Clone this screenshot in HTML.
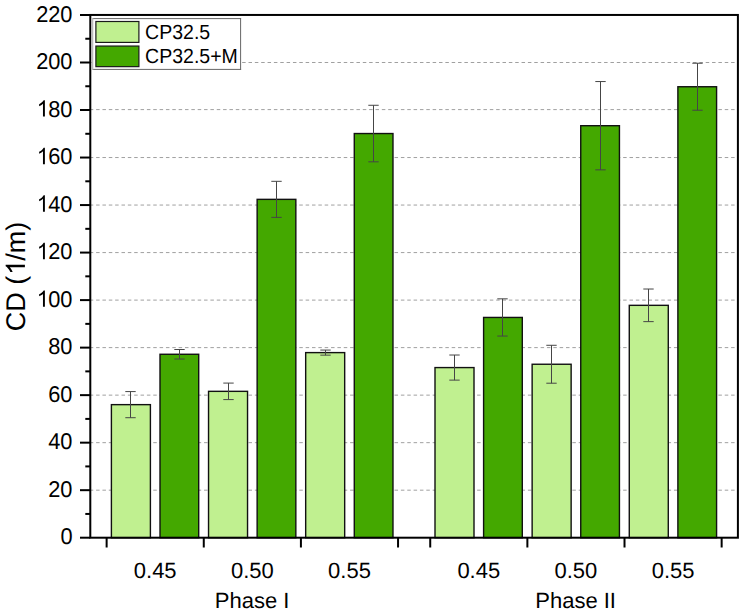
<!DOCTYPE html>
<html><head><meta charset="utf-8"><style>
html,body{margin:0;padding:0;background:#fff;}
body{width:742px;height:613px;overflow:hidden;}
svg{display:block;}
text{font-family:"Liberation Sans",sans-serif;fill:#000;text-rendering:geometricPrecision;}
.tl{font-size:21.8px;}
.tx{font-size:22px;}
.yt{font-size:27px;}
.lg{font-size:19.5px;}
</style></head><body>
<svg width="742" height="613" viewBox="0 0 742 613">
<line x1="89.75" y1="490.18" x2="737" y2="490.18" stroke="#a0a0a0" stroke-width="1" stroke-dasharray="3.5 2.85" />
<line x1="89.75" y1="442.66" x2="737" y2="442.66" stroke="#a0a0a0" stroke-width="1" stroke-dasharray="3.5 2.85" />
<line x1="89.75" y1="395.14" x2="737" y2="395.14" stroke="#a0a0a0" stroke-width="1" stroke-dasharray="3.5 2.85" />
<line x1="89.75" y1="347.62" x2="737" y2="347.62" stroke="#a0a0a0" stroke-width="1" stroke-dasharray="3.5 2.85" />
<line x1="89.75" y1="300.10" x2="737" y2="300.10" stroke="#a0a0a0" stroke-width="1" stroke-dasharray="3.5 2.85" />
<line x1="89.75" y1="252.58" x2="737" y2="252.58" stroke="#a0a0a0" stroke-width="1" stroke-dasharray="3.5 2.85" />
<line x1="89.75" y1="205.06" x2="737" y2="205.06" stroke="#a0a0a0" stroke-width="1" stroke-dasharray="3.5 2.85" />
<line x1="89.75" y1="157.54" x2="737" y2="157.54" stroke="#a0a0a0" stroke-width="1" stroke-dasharray="3.5 2.85" />
<line x1="89.75" y1="109.60" x2="737" y2="109.60" stroke="#a0a0a0" stroke-width="1" stroke-dasharray="3.5 2.85" />
<line x1="89.75" y1="62.50" x2="737" y2="62.50" stroke="#a0a0a0" stroke-width="1" stroke-dasharray="3.5 2.85" />
<rect x="111.40" y="404.64" width="39.00" height="133.06" fill="#c0f090" stroke="#111" stroke-width="1.4" />
<line x1="130.50" y1="391.58" x2="130.50" y2="417.71" stroke="#454545" stroke-width="1.0" />
<line x1="125.30" y1="391.58" x2="135.70" y2="391.58" stroke="#454545" stroke-width="1.0" />
<line x1="125.30" y1="417.71" x2="135.70" y2="417.71" stroke="#454545" stroke-width="1.0" />
<rect x="160.00" y="354.27" width="38.70" height="183.43" fill="#44a800" stroke="#111" stroke-width="1.4" />
<line x1="179.50" y1="349.52" x2="179.50" y2="359.02" stroke="#454545" stroke-width="1.0" />
<line x1="174.30" y1="349.52" x2="184.70" y2="349.52" stroke="#454545" stroke-width="1.0" />
<line x1="174.30" y1="359.02" x2="184.70" y2="359.02" stroke="#454545" stroke-width="1.0" />
<rect x="208.54" y="391.34" width="39.00" height="146.36" fill="#c0f090" stroke="#111" stroke-width="1.4" />
<line x1="228.50" y1="383.09" x2="228.50" y2="399.58" stroke="#454545" stroke-width="1.0" />
<line x1="223.30" y1="383.09" x2="233.70" y2="383.09" stroke="#454545" stroke-width="1.0" />
<line x1="223.30" y1="399.58" x2="233.70" y2="399.58" stroke="#454545" stroke-width="1.0" />
<rect x="257.14" y="199.36" width="38.70" height="338.34" fill="#44a800" stroke="#111" stroke-width="1.4" />
<line x1="276.50" y1="181.32" x2="276.50" y2="217.39" stroke="#454545" stroke-width="1.0" />
<line x1="271.30" y1="181.32" x2="281.70" y2="181.32" stroke="#454545" stroke-width="1.0" />
<line x1="271.30" y1="217.39" x2="281.70" y2="217.39" stroke="#454545" stroke-width="1.0" />
<rect x="305.68" y="352.61" width="39.00" height="185.09" fill="#c0f090" stroke="#111" stroke-width="1.4" />
<line x1="325.50" y1="350.07" x2="325.50" y2="355.15" stroke="#454545" stroke-width="1.0" />
<line x1="320.30" y1="350.07" x2="330.70" y2="350.07" stroke="#454545" stroke-width="1.0" />
<line x1="320.30" y1="355.15" x2="330.70" y2="355.15" stroke="#454545" stroke-width="1.0" />
<rect x="354.28" y="133.54" width="38.70" height="404.16" fill="#44a800" stroke="#111" stroke-width="1.4" />
<line x1="373.50" y1="105.27" x2="373.50" y2="161.82" stroke="#454545" stroke-width="1.0" />
<line x1="368.30" y1="105.27" x2="378.70" y2="105.27" stroke="#454545" stroke-width="1.0" />
<line x1="368.30" y1="161.82" x2="378.70" y2="161.82" stroke="#454545" stroke-width="1.0" />
<rect x="435.00" y="367.58" width="39.00" height="170.12" fill="#c0f090" stroke="#111" stroke-width="1.4" />
<line x1="454.50" y1="355.03" x2="454.50" y2="380.12" stroke="#454545" stroke-width="1.0" />
<line x1="449.30" y1="355.03" x2="459.70" y2="355.03" stroke="#454545" stroke-width="1.0" />
<line x1="449.30" y1="380.12" x2="459.70" y2="380.12" stroke="#454545" stroke-width="1.0" />
<rect x="483.60" y="317.44" width="38.70" height="220.26" fill="#44a800" stroke="#111" stroke-width="1.4" />
<line x1="502.50" y1="298.84" x2="502.50" y2="336.05" stroke="#454545" stroke-width="1.0" />
<line x1="497.30" y1="298.84" x2="507.70" y2="298.84" stroke="#454545" stroke-width="1.0" />
<line x1="497.30" y1="336.05" x2="507.70" y2="336.05" stroke="#454545" stroke-width="1.0" />
<rect x="532.14" y="364.25" width="39.00" height="173.45" fill="#c0f090" stroke="#111" stroke-width="1.4" />
<line x1="551.50" y1="345.29" x2="551.50" y2="383.21" stroke="#454545" stroke-width="1.0" />
<line x1="546.30" y1="345.29" x2="556.70" y2="345.29" stroke="#454545" stroke-width="1.0" />
<line x1="546.30" y1="383.21" x2="556.70" y2="383.21" stroke="#454545" stroke-width="1.0" />
<rect x="580.74" y="125.70" width="38.70" height="412.00" fill="#44a800" stroke="#111" stroke-width="1.4" />
<line x1="600.50" y1="81.56" x2="600.50" y2="169.85" stroke="#454545" stroke-width="1.0" />
<line x1="595.30" y1="81.56" x2="605.70" y2="81.56" stroke="#454545" stroke-width="1.0" />
<line x1="595.30" y1="169.85" x2="605.70" y2="169.85" stroke="#454545" stroke-width="1.0" />
<rect x="629.28" y="305.33" width="39.00" height="232.37" fill="#c0f090" stroke="#111" stroke-width="1.4" />
<line x1="648.50" y1="289.03" x2="648.50" y2="321.63" stroke="#454545" stroke-width="1.0" />
<line x1="643.30" y1="289.03" x2="653.70" y2="289.03" stroke="#454545" stroke-width="1.0" />
<line x1="643.30" y1="321.63" x2="653.70" y2="321.63" stroke="#454545" stroke-width="1.0" />
<rect x="677.88" y="86.74" width="38.70" height="450.96" fill="#44a800" stroke="#111" stroke-width="1.4" />
<line x1="697.50" y1="63.24" x2="697.50" y2="110.23" stroke="#454545" stroke-width="1.0" />
<line x1="692.30" y1="63.24" x2="702.70" y2="63.24" stroke="#454545" stroke-width="1.0" />
<line x1="692.30" y1="110.23" x2="702.70" y2="110.23" stroke="#454545" stroke-width="1.0" />
<rect x="90.3" y="14.95" width="647.60" height="522.75" fill="none" stroke="#000" stroke-width="2" />
<line x1="80" y1="537.70" x2="90.3" y2="537.70" stroke="#000" stroke-width="2" />
<g transform="translate(60.38,544.30) scale(1.0,1.05)"><text x="0.00" y="0" class="tl">0</text></g>
<line x1="80" y1="490.18" x2="90.3" y2="490.18" stroke="#000" stroke-width="2" />
<g transform="translate(48.25,496.78) scale(1.0,1.05)"><text x="0.00" y="0" class="tl">20</text></g>
<line x1="80" y1="442.66" x2="90.3" y2="442.66" stroke="#000" stroke-width="2" />
<g transform="translate(48.25,449.26) scale(1.0,1.05)"><text x="0.00" y="0" class="tl">40</text></g>
<line x1="80" y1="395.14" x2="90.3" y2="395.14" stroke="#000" stroke-width="2" />
<g transform="translate(48.25,401.74) scale(1.0,1.05)"><text x="0.00" y="0" class="tl">60</text></g>
<line x1="80" y1="347.62" x2="90.3" y2="347.62" stroke="#000" stroke-width="2" />
<g transform="translate(48.25,354.22) scale(1.0,1.05)"><text x="0.00" y="0" class="tl">80</text></g>
<line x1="80" y1="300.10" x2="90.3" y2="300.10" stroke="#000" stroke-width="2" />
<g transform="translate(36.13,306.70) scale(1.0,1.05)"><path transform="translate(0.00,0) scale(0.01064,-0.01064)" d="M823 0L643 0L643 1147Q578 1085 472 1023Q366 961 282 930L282 1104Q433 1175 546 1276Q659 1377 706 1460L823 1460Z" /><text x="12.12" y="0" class="tl">00</text></g>
<line x1="80" y1="252.58" x2="90.3" y2="252.58" stroke="#000" stroke-width="2" />
<g transform="translate(36.13,259.18) scale(1.0,1.05)"><path transform="translate(0.00,0) scale(0.01064,-0.01064)" d="M823 0L643 0L643 1147Q578 1085 472 1023Q366 961 282 930L282 1104Q433 1175 546 1276Q659 1377 706 1460L823 1460Z" /><text x="12.12" y="0" class="tl">20</text></g>
<line x1="80" y1="205.06" x2="90.3" y2="205.06" stroke="#000" stroke-width="2" />
<g transform="translate(36.13,211.66) scale(1.0,1.05)"><path transform="translate(0.00,0) scale(0.01064,-0.01064)" d="M823 0L643 0L643 1147Q578 1085 472 1023Q366 961 282 930L282 1104Q433 1175 546 1276Q659 1377 706 1460L823 1460Z" /><text x="12.12" y="0" class="tl">40</text></g>
<line x1="80" y1="157.54" x2="90.3" y2="157.54" stroke="#000" stroke-width="2" />
<g transform="translate(36.13,164.14) scale(1.0,1.05)"><path transform="translate(0.00,0) scale(0.01064,-0.01064)" d="M823 0L643 0L643 1147Q578 1085 472 1023Q366 961 282 930L282 1104Q433 1175 546 1276Q659 1377 706 1460L823 1460Z" /><text x="12.12" y="0" class="tl">60</text></g>
<line x1="80" y1="110.02" x2="90.3" y2="110.02" stroke="#000" stroke-width="2" />
<g transform="translate(36.13,116.62) scale(1.0,1.05)"><path transform="translate(0.00,0) scale(0.01064,-0.01064)" d="M823 0L643 0L643 1147Q578 1085 472 1023Q366 961 282 930L282 1104Q433 1175 546 1276Q659 1377 706 1460L823 1460Z" /><text x="12.12" y="0" class="tl">80</text></g>
<line x1="80" y1="62.50" x2="90.3" y2="62.50" stroke="#000" stroke-width="2" />
<g transform="translate(36.13,69.10) scale(1.0,1.05)"><text x="0.00" y="0" class="tl">200</text></g>
<line x1="80" y1="14.98" x2="90.3" y2="14.98" stroke="#000" stroke-width="2" />
<g transform="translate(36.13,21.58) scale(1.0,1.05)"><text x="0.00" y="0" class="tl">220</text></g>
<line x1="85.3" y1="513.94" x2="90.3" y2="513.94" stroke="#000" stroke-width="2" />
<line x1="85.3" y1="466.42" x2="90.3" y2="466.42" stroke="#000" stroke-width="2" />
<line x1="85.3" y1="418.90" x2="90.3" y2="418.90" stroke="#000" stroke-width="2" />
<line x1="85.3" y1="371.38" x2="90.3" y2="371.38" stroke="#000" stroke-width="2" />
<line x1="85.3" y1="323.86" x2="90.3" y2="323.86" stroke="#000" stroke-width="2" />
<line x1="85.3" y1="276.34" x2="90.3" y2="276.34" stroke="#000" stroke-width="2" />
<line x1="85.3" y1="228.82" x2="90.3" y2="228.82" stroke="#000" stroke-width="2" />
<line x1="85.3" y1="181.30" x2="90.3" y2="181.30" stroke="#000" stroke-width="2" />
<line x1="85.3" y1="133.78" x2="90.3" y2="133.78" stroke="#000" stroke-width="2" />
<line x1="85.3" y1="86.26" x2="90.3" y2="86.26" stroke="#000" stroke-width="2" />
<line x1="85.3" y1="38.74" x2="90.3" y2="38.74" stroke="#000" stroke-width="2" />
<line x1="106.63" y1="537.7" x2="106.63" y2="547.5" stroke="#000" stroke-width="2" />
<line x1="203.77" y1="537.7" x2="203.77" y2="547.5" stroke="#000" stroke-width="2" />
<line x1="300.91" y1="537.7" x2="300.91" y2="547.5" stroke="#000" stroke-width="2" />
<line x1="398.05" y1="537.7" x2="398.05" y2="547.5" stroke="#000" stroke-width="2" />
<line x1="430.23" y1="537.7" x2="430.23" y2="547.5" stroke="#000" stroke-width="2" />
<line x1="527.37" y1="537.7" x2="527.37" y2="547.5" stroke="#000" stroke-width="2" />
<line x1="624.51" y1="537.7" x2="624.51" y2="547.5" stroke="#000" stroke-width="2" />
<line x1="721.65" y1="537.7" x2="721.65" y2="547.5" stroke="#000" stroke-width="2" />
<text x="155.20" y="577.8" text-anchor="middle" class="tx">0.45</text>
<text x="252.34" y="577.8" text-anchor="middle" class="tx">0.50</text>
<text x="349.48" y="577.8" text-anchor="middle" class="tx">0.55</text>
<text x="478.80" y="577.8" text-anchor="middle" class="tx">0.45</text>
<text x="575.94" y="577.8" text-anchor="middle" class="tx">0.50</text>
<text x="673.08" y="577.8" text-anchor="middle" class="tx">0.55</text>
<text x="252.04" y="608.3" text-anchor="middle" class="tx">Phase I</text>
<text x="575.64" y="608.3" text-anchor="middle" class="tx">Phase II</text>
<g transform="translate(24.9,276.4) rotate(-90)"><text x="-54.75" y="0" class="yt">CD (</text><path transform="translate(0.74,0) scale(0.01318,-0.01318)" d="M823 0L643 0L643 1147Q578 1085 472 1023Q366 961 282 930L282 1104Q433 1175 546 1276Q659 1377 706 1460L823 1460Z" /><text x="15.76" y="0" class="yt">/m)</text></g>
<rect x="92.4" y="18.6" width="148.2" height="50.8" fill="#fff" stroke="none" />
<line x1="92" y1="18.6" x2="241.1" y2="18.6" stroke="#666" stroke-width="1" />
<line x1="92" y1="69.4" x2="241.1" y2="69.4" stroke="#666" stroke-width="1" />
<line x1="240.6" y1="18.1" x2="240.6" y2="69.9" stroke="#666" stroke-width="1" />
<line x1="92.4" y1="18.1" x2="92.4" y2="69.9" stroke="#bbb" stroke-width="1.8" />
<rect x="95.9" y="21.5" width="43.0" height="20.9" fill="#c0f090" stroke="#1a1a1a" stroke-width="1.2" />
<rect x="95.9" y="46.05" width="43.0" height="20.6" fill="#44a800" stroke="#1a1a1a" stroke-width="1.2" />
<text transform="translate(145.1,38.9) scale(1,1.05)" class="lg">CP32.5</text>
<text transform="translate(145.1,62.6) scale(1,1.05)" class="lg">CP32.5+M</text>
</svg>
</body></html>
